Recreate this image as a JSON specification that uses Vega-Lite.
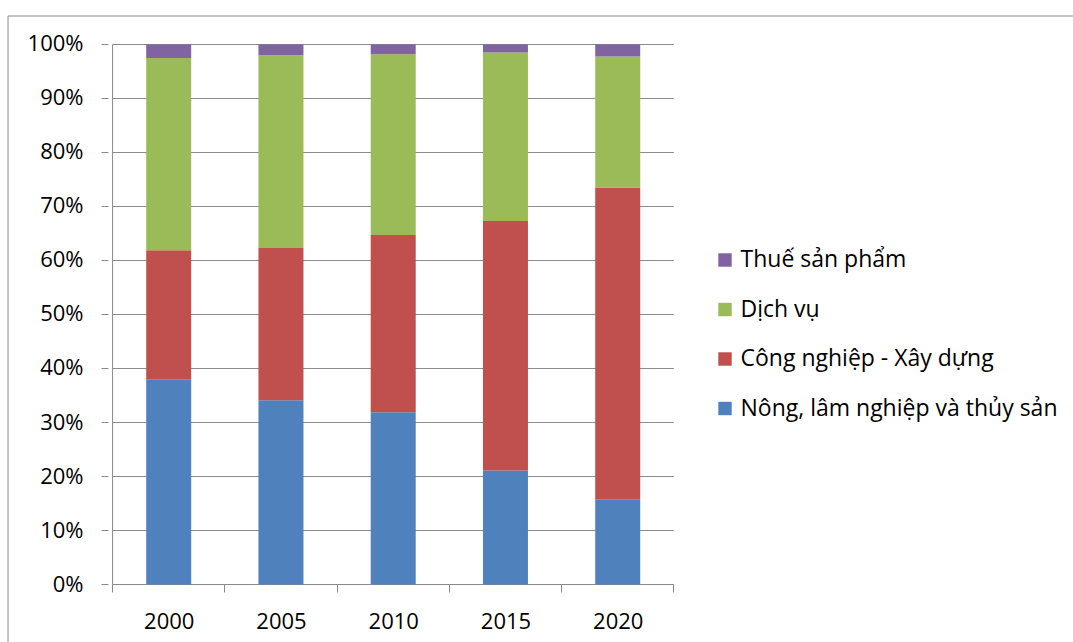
{
  "$schema": "https://vega.github.io/schema/vega-lite/v6.json",
  "width": 1085,
  "height": 646,
  "autosize": {"type": "none"},
  "padding": {"left": 7.5, "top": 15.5, "right": -19.5, "bottom": -19.5},
  "background": "white",
  "config": {
    "view": {"stroke": "#8a8a8a", "strokeWidth": 1},
    "font": "Open Sans",
    "axisX": {
      "offset": -77, "translate": 0,
      "labelOffset": 56.65, "labelFlush": false, "labelOverlap": false,
      "domain": false, "grid": false, "title": null,
      "tickSize": 8, "tickColor": "#8a8a8a", "tickWidth": 1,
      "labelPadding": 19, "labelFontSize": 22, "labelFont": "Open Sans", "labelColor": "#000"
    },
    "axisY": {
      "offset": -101, "translate": 0,
      "domain": false, "grid": false, "title": null,
      "tickSize": 7, "tickColor": "#8a8a8a", "tickWidth": 1,
      "labelPadding": 18, "labelFontSize": 22, "labelFont": "Open Sans", "labelColor": "#000",
      "labelFlush": false, "labelOverlap": false
    }
  },
  "datasets": {
    "gdp": [
      {"year": 2000, "sector": "Nông, lâm nghiệp và thủy sản", "pct": 38.0},
      {"year": 2000, "sector": "Công nghiệp - Xây dựng", "pct": 23.9},
      {"year": 2000, "sector": "Dịch vụ", "pct": 35.6},
      {"year": 2000, "sector": "Thuế sản phẩm", "pct": 2.5},
      {"year": 2005, "sector": "Nông, lâm nghiệp và thủy sản", "pct": 34.1},
      {"year": 2005, "sector": "Công nghiệp - Xây dựng", "pct": 28.2},
      {"year": 2005, "sector": "Dịch vụ", "pct": 35.7},
      {"year": 2005, "sector": "Thuế sản phẩm", "pct": 2.0},
      {"year": 2010, "sector": "Nông, lâm nghiệp và thủy sản", "pct": 31.9},
      {"year": 2010, "sector": "Công nghiệp - Xây dựng", "pct": 32.8},
      {"year": 2010, "sector": "Dịch vụ", "pct": 33.5},
      {"year": 2010, "sector": "Thuế sản phẩm", "pct": 1.8},
      {"year": 2015, "sector": "Nông, lâm nghiệp và thủy sản", "pct": 21.1},
      {"year": 2015, "sector": "Công nghiệp - Xây dựng", "pct": 46.2},
      {"year": 2015, "sector": "Dịch vụ", "pct": 31.2},
      {"year": 2015, "sector": "Thuế sản phẩm", "pct": 1.5},
      {"year": 2020, "sector": "Nông, lâm nghiệp và thủy sản", "pct": 15.8},
      {"year": 2020, "sector": "Công nghiệp - Xây dựng", "pct": 57.7},
      {"year": 2020, "sector": "Dịch vụ", "pct": 24.3},
      {"year": 2020, "sector": "Thuế sản phẩm", "pct": 2.2}
    ],
    "grid": [
      {"v": 0}, {"v": 10}, {"v": 20}, {"v": 30}, {"v": 40}, {"v": 50},
      {"v": 60}, {"v": 70}, {"v": 80}, {"v": 90}, {"v": 100}
    ]
  },
  "layer": [
    {
      "data": {"name": "grid"},
      "mark": {"type": "rule", "color": "#8a8a8a", "strokeWidth": 1},
      "encoding": {
        "y": {
          "field": "v", "type": "quantitative",
          "scale": {"domain": [-14.259, 105.37], "nice": false, "zero": false},
          "axis": {"values": [0, 10, 20, 30, 40, 50, 60, 70, 80, 90, 100], "labelExpr": "datum.value + '%'"}
        },
        "x": {
          "datum": 1997.5, "type": "quantitative",
          "scale": {"domain": [1993.0428, 2040.9245], "nice": false, "zero": false},
          "axis": {"values": [1997.5, 2002.5, 2007.5, 2012.5, 2017.5, 2022.5], "labelExpr": "datum.value < 2020 ? '' + (datum.value + 2.5) : ''"}
        },
        "x2": {"datum": 2022.5}
      }
    },
    {
      "data": {"values": [{}]},
      "mark": {"type": "rule", "color": "#8a8a8a", "strokeWidth": 1},
      "encoding": {
        "x": {
          "datum": 1997.5, "type": "quantitative",
          "axis": {"values": [1997.5, 2002.5, 2007.5, 2012.5, 2017.5, 2022.5], "labelExpr": "datum.value < 2020 ? '' + (datum.value + 2.5) : ''"}
        },
        "y": {
          "datum": 0, "type": "quantitative",
          "axis": {"values": [0, 10, 20, 30, 40, 50, 60, 70, 80, 90, 100], "labelExpr": "datum.value + '%'"}
        },
        "y2": {"datum": 100}
      }
    },
    {
      "data": {"name": "gdp"},
      "mark": {"type": "bar", "width": 45},
      "encoding": {
        "x": {
          "field": "year", "type": "quantitative",
          "scale": {"domain": [1993.0428, 2040.9245], "nice": false, "zero": false},
          "axis": {"values": [1997.5, 2002.5, 2007.5, 2012.5, 2017.5, 2022.5], "labelExpr": "datum.value < 2020 ? '' + (datum.value + 2.5) : ''"}
        },
        "y": {
          "field": "pct", "type": "quantitative", "stack": "zero",
          "scale": {"domain": [-14.259, 105.37], "nice": false, "zero": false},
          "axis": {"values": [0, 10, 20, 30, 40, 50, 60, 70, 80, 90, 100], "labelExpr": "datum.value + '%'"}
        },
        "order": {"field": "year", "type": "quantitative"},
        "color": {
          "field": "sector", "type": "nominal",
          "scale": {
            "domain": ["Nông, lâm nghiệp và thủy sản", "Công nghiệp - Xây dựng", "Dịch vụ", "Thuế sản phẩm"],
            "range": ["#4F81BD", "#C0504D", "#9BBB59", "#8064A2"]
          },
          "legend": {
            "orient": "none", "legendX": 706, "legendY": 233,
            "values": ["Thuế sản phẩm", "Dịch vụ", "Công nghiệp - Xây dựng", "Nông, lâm nghiệp và thủy sản"],
            "title": null, "padding": 0,
            "symbolType": "square", "symbolSize": 180, "symbolStrokeWidth": 0, "symbolOpacity": 1,
            "labelFontSize": 23, "labelFont": "Open Sans", "labelColor": "#000", "labelLimit": 500,
            "labelOffset": 4, "rowPadding": 25.5
          }
        }
      }
    }
  ]
}
